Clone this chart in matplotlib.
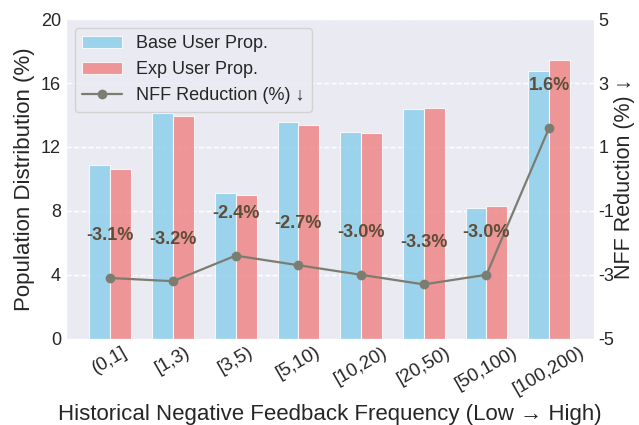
import numpy as np
import matplotlib.pyplot as plt
import seaborn as sns

# bucket labels and values
buckets = ['(0,1]', '[1,3)', '[3,5)', '[5,10)', '[10,20)', '[20,50)', '[50,100)', '[100,200)']
base_prop = [10.9, 14.1, 9.1, 13.55, 12.95, 14.35, 8.15, 16.75]
exp_prop = [10.6, 13.95, 8.97, 13.35, 12.9, 14.45, 8.29, 17.45]
nff_reduction = [-3.1, -3.2, -2.4, -2.7, -3.0, -3.3, -3.0, 1.6]

sns.set_style('darkgrid')
plt.rcParams['font.family'] = ['Liberation Sans', 'DejaVu Sans']
plt.rcParams['axes.unicode_minus'] = False

fig, ax1 = plt.subplots(figsize=(6.39, 4.25), dpi=100)
fig.subplots_adjust(left=0.103, right=0.929, bottom=0.203, top=0.955)

x = np.arange(len(buckets))
w = 0.333
b1 = ax1.bar(x - w / 2, base_prop, w, color='skyblue', alpha=0.8,
             edgecolor='white', linewidth=0.8, label='Base User Prop.')
b2 = ax1.bar(x + w / 2, exp_prop, w, color='lightcoral', alpha=0.8,
             edgecolor='white', linewidth=0.8, label='Exp User Prop.')

ax1.set_ylim(0, 20)
ax1.set_yticks([0, 4, 8, 12, 16, 20])
ax1.set_xticks(x)
ax1.set_xticklabels(buckets, rotation=30, ha='center')
ax1.tick_params(axis='x', labelsize=13.5, length=0)
ax1.tick_params(axis='y', labelsize=13, length=0)
ax1.set_ylabel('Population Distribution (%)', fontsize=16)
ax1.set_xlabel('Historical Negative Feedback Frequency (Low \u2192 High)', fontsize=16)
ax1.grid(axis='x', visible=False)
ax1.grid(axis='y', color='white', linestyle='--', linewidth=1)

ax2 = ax1.twinx()
line, = ax2.plot(x, nff_reduction, color='#7d7c70', marker='o', markersize=6,
                 linewidth=1.6, label='NFF Reduction (%) \u2193')
for xi, v in zip(x, nff_reduction):
    ax2.text(xi, v + 1.32, f'{v:.1f}%', ha='center', va='center',
             fontsize=13, fontweight='bold', color='#5e4d39')
ax2.set_ylim(-5, 5)
ax2.set_yticks([-5, -3, -1, 1, 3, 5])
ax2.grid(False)
ax2.tick_params(axis='y', labelsize=13, length=0)
ax2.set_ylabel('NFF Reduction (%) \u2193', fontsize=15.5, labelpad=0)
ax1.set_xlim(-0.71, 7.71)

ax2.legend([b1, b2, line], [b1.get_label(), b2.get_label(), line.get_label()],
           loc='upper left', fontsize=13, frameon=True, handlelength=2.2)

fig.savefig('out.png', dpi=100)
